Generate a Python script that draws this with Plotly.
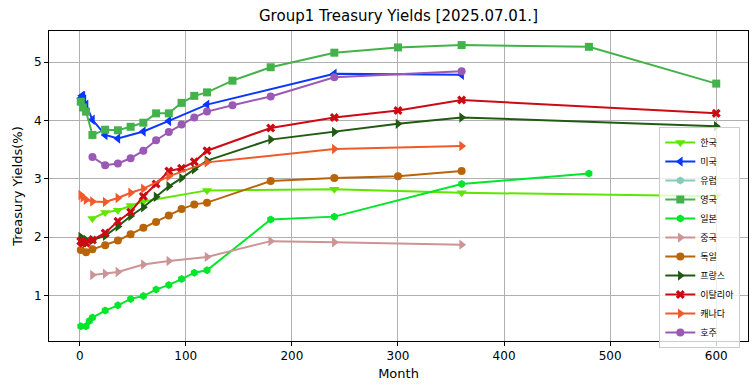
import plotly.graph_objects as go

# ---- data (months to maturity, yields %) ----
kr_m = [12, 24, 36, 48, 60, 120, 240, 360, 600]
kr_y = [2.32, 2.42, 2.46, 2.54, 2.61, 2.80, 2.82, 2.76, 2.70]

us_m = [1, 2, 3, 4, 6, 12, 24, 36, 60, 84, 120, 240, 360]
us_y = [4.38, 4.42, 4.42, 4.36, 4.27, 4.01, 3.75, 3.69, 3.81, 3.99, 4.27, 4.80, 4.78]

eu_m = [None]   # no data for Europe (legend entry only)
eu_y = [None]

uk_m = [1, 3, 6, 12, 24, 36, 48, 60, 72, 84, 96, 108, 120, 144, 180, 240, 300, 360, 480, 600]
uk_y = [4.32, 4.22, 4.15, 3.75, 3.84, 3.83, 3.89, 3.96, 4.12, 4.12, 4.30, 4.42, 4.48, 4.68, 4.91, 5.16, 5.25, 5.29, 5.26, 4.63]

jp_m = [1, 6, 9, 12, 24, 36, 48, 60, 72, 84, 96, 108, 120, 180, 240, 360, 480]
jp_y = [0.47, 0.47, 0.56, 0.62, 0.74, 0.83, 0.94, 0.99, 1.10, 1.18, 1.28, 1.39, 1.43, 2.30, 2.35, 2.91, 3.09]

cn_m = [12, 24, 36, 60, 84, 120, 180, 240, 360]
cn_y = [1.35, 1.37, 1.40, 1.53, 1.59, 1.66, 1.93, 1.91, 1.87]

de_m = [1, 6, 12, 24, 36, 48, 60, 72, 84, 96, 108, 120, 180, 240, 300, 360]
de_y = [1.78, 1.74, 1.79, 1.86, 1.94, 2.05, 2.16, 2.26, 2.37, 2.48, 2.56, 2.59, 2.96, 3.01, 3.04, 3.13]

fr_m = [1, 3, 6, 12, 24, 36, 48, 60, 72, 84, 96, 108, 120, 180, 240, 300, 360, 600]
fr_y = [2.00, 1.97, 1.95, 1.95, 2.02, 2.18, 2.36, 2.51, 2.69, 2.87, 3.01, 3.16, 3.31, 3.67, 3.80, 3.94, 4.05, 3.90]

it_m = [1, 3, 6, 12, 24, 36, 48, 60, 72, 84, 96, 108, 120, 180, 240, 300, 360, 600]
it_y = [1.93, 1.90, 1.90, 1.95, 2.07, 2.27, 2.43, 2.70, 2.91, 3.13, 3.18, 3.29, 3.48, 3.87, 4.05, 4.17, 4.35, 4.12]

ca_m = [1, 3, 6, 12, 24, 36, 48, 60, 84, 120, 240, 360]
ca_y = [2.72, 2.68, 2.64, 2.61, 2.60, 2.67, 2.76, 2.83, 3.04, 3.28, 3.51, 3.56]

au_m = [12, 24, 36, 48, 60, 72, 84, 96, 108, 120, 144, 180, 240, 360]
au_y = [3.37, 3.23, 3.26, 3.35, 3.48, 3.66, 3.80, 3.93, 4.05, 4.15, 4.26, 4.41, 4.74, 4.84]

series = [
    ("한국", kr_m, kr_y, "#5fe600", "triangle-down", 9),
    ("미국", us_m, us_y, "#0a37ff", "triangle-left", 9),
    ("유럽", eu_m, eu_y, "#88ccb8", "hexagon", 8),
    ("영국", uk_m, uk_y, "#44b24a", "square", 8),
    ("일본", jp_m, jp_y, "#00e62a", "hexagon", 8),
    ("중국", cn_m, cn_y, "#cc9494", "triangle-right", 9),
    ("독일", de_m, de_y, "#b86408", "circle", 8),
    ("프랑스", fr_m, fr_y, "#215a12", "triangle-right", 9),
    ("이탈리아", it_m, it_y, "#cc0a14", "x", 8),
    ("캐나다", ca_m, ca_y, "#f05a2a", "triangle-right", 9),
    ("호주", au_m, au_y, "#9b59b6", "circle", 8),
]

fig = go.Figure()
for name, xs, ys, color, sym, sz in series:
    fig.add_trace(go.Scatter(
        x=xs, y=ys, name=name, mode="lines+markers",
        line=dict(color=color, width=2),
        marker=dict(symbol=sym, size=sz, color=color, line=dict(width=0)),
        showlegend=True,
    ))

axis_common = dict(
    showgrid=True, gridcolor="#b0b0b0", gridwidth=1,
    showline=True, linecolor="black", linewidth=1, mirror=True,
    ticks="outside", ticklen=4, tickcolor="black",
    tickfont=dict(family="DejaVu Sans", size=12, color="black"),
    zeroline=False, automargin=False,
)

fig.update_layout(
    width=755, height=391,
    margin=dict(l=49, r=7, t=31, b=50),
    paper_bgcolor="white", plot_bgcolor="white",
    title=dict(text="Group1 Treasury Yields [2025.07.01.]", x=(49 + 748) / 2 / 755, xanchor="center",
               y=1 - 16 / 391, yanchor="middle",
               font=dict(family="DejaVu Sans", size=15, color="black")),
    xaxis=dict(range=[-28.95, 629.95], dtick=100, tick0=0,
               title=dict(text="Month", font=dict(family="DejaVu Sans", size=13, color="black"), standoff=6),
               **axis_common),
    yaxis=dict(range=[0.2185, 5.5315], dtick=1, tick0=0,
               title=dict(text="Treasury Yields(%)", font=dict(family="DejaVu Sans", size=13, color="black"), standoff=8),
               **axis_common),
    legend=dict(x=0.989, xanchor="right", y=0.69, yanchor="top",
                bgcolor="rgba(255,255,255,0.8)", bordercolor="#cccccc", borderwidth=1,
                font=dict(family="Noto Sans CJK KR", size=9, color="black"),
                tracegroupgap=0, itemwidth=30),
    showlegend=True,
)

fig.write_html("out.html", config={"displayModeBar": False},
               post_script="document.body.style.margin='0';document.body.style.padding='0';")
